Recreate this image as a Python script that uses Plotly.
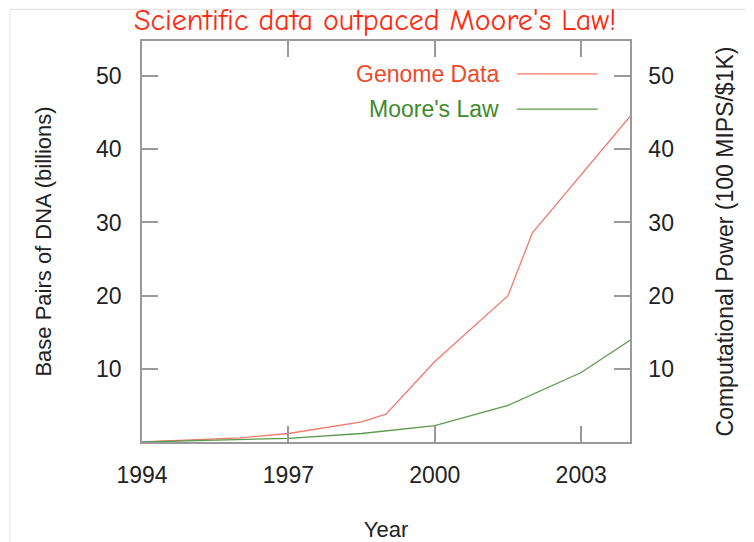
import plotly.graph_objects as go

genome_years = [1994, 1996, 1997, 1998.5, 1999, 2000, 2001.5, 2002, 2004]
genome_vals = [0.0, 0.57, 1.16, 2.75, 3.8, 11.0, 20.0, 28.6, 44.5]

moore_years = [1994, 1996, 1997, 1998.5, 2000, 2001.5, 2003, 2004]
moore_vals = [0.0, 0.3, 0.5, 1.16, 2.25, 5.0, 9.5, 13.9]

x_ticks = [1994, 1997, 2000, 2003]
y_ticks = [10, 20, 30, 40, 50]

title_text = "Scientific data outpaced Moore's Law!"
genome_name = "Genome Data"
moore_name = "Moore's Law"

RED_LINE = "#f27a6a"
GREEN_LINE = "#5c9a4e"
RED_TEXT = "#ee4a2a"
GREEN_TEXT = "#3f8a2c"
FRAME = "#9a9a9a"
FONT = "Liberation Sans, Arial, sans-serif"

fig = go.Figure()
fig.add_trace(go.Scatter(x=genome_years, y=genome_vals, mode="lines", name=genome_name,
                         line=dict(color=RED_LINE, width=1.3), yaxis="y"))
fig.add_trace(go.Scatter(x=moore_years, y=moore_vals, mode="lines", name=moore_name,
                         line=dict(color=GREEN_LINE, width=1.3), yaxis="y2"))

axis_common = dict(showgrid=False, zeroline=False, showline=True, linecolor=FRAME, linewidth=1.5,
                   ticks="inside", ticklen=16, tickwidth=1.5, tickcolor=FRAME, automargin=False,
                   tickfont=dict(family=FONT, size=23, color="#222"))

fig.update_layout(
    width=754, height=542,
    margin=dict(l=134, r=132, t=33, b=108),
    paper_bgcolor="white", plot_bgcolor="white",
    showlegend=False,
    title=dict(text=title_text, x=0.487, xanchor="center", y=1.0, yanchor="top",
               pad=dict(t=1, b=0),
               font=dict(family="Comic Sans MS, Comic Neue, DejaVu Sans, sans-serif", size=30, color="#ff2a10")),
    xaxis=dict(range=[1994, 2004], tickvals=x_ticks, ticktext=[str(v) for v in x_ticks],
               mirror="ticks", ticklabelstandoff=12,
               title=dict(text="Year", font=dict(family=FONT, size=22, color="#222"), standoff=34),
               **axis_common),
    yaxis=dict(range=[0, 54.8], tickvals=y_ticks, ticklabelstandoff=14,
               title=dict(text="Base Pairs of DNA (billions)", font=dict(family=FONT, size=22, color="#222"), standoff=38),
               **axis_common),
    yaxis2=dict(range=[0, 54.8], tickvals=y_ticks, overlaying="y", side="right", ticklabelstandoff=12,
                title=dict(text="Computational Power (100 MIPS/$1K)", font=dict(family=FONT, size=23, color="#222"), standoff=44),
                **axis_common),
)

# legend drawn with text to the left of the sample line
for name, ytxt, tcol, lcol in [(genome_name, 0.918, RED_TEXT, RED_LINE), (moore_name, 0.830, GREEN_TEXT, GREEN_LINE)]:
    fig.add_annotation(x=0.736, y=ytxt, xref="paper", yref="paper", text=name, showarrow=False,
                       xanchor="right", yanchor="middle", font=dict(family=FONT, size=23, color=tcol))
    fig.add_shape(type="line", xref="paper", yref="paper", x0=0.768, x1=0.934, y0=ytxt, y1=ytxt,
                  line=dict(color=lcol, width=1.3))

# light slide frame lines
fig.add_shape(type="line", xref="paper", yref="paper", x0=-0.2705, x1=1.3, y0=1.079, y1=1.079,
              line=dict(color="#dddddd", width=1))
fig.add_shape(type="line", xref="paper", yref="paper", x0=-0.2705, x1=-0.2705, y0=-0.3, y1=1.079,
              line=dict(color="#e4e4e4", width=1))

fig.write_html("out.html")
